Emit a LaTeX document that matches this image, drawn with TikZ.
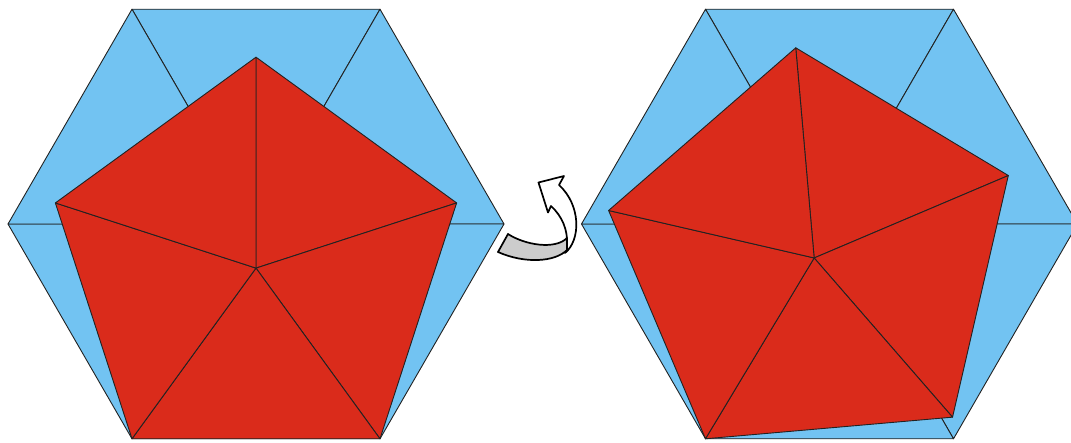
\documentclass[tikz,border=0pt]{standalone}
\usetikzlibrary{calc}
\definecolor{hexblue}{HTML}{72C3F2}
\definecolor{penred}{HTML}{DA2B1B}
\definecolor{arrgray}{HTML}{CCCCCC}
\definecolor{edge}{HTML}{222222}
\tikzset{
  hextri/.style={fill=hexblue, draw=edge, line width=0.9pt, line join=round},
  pentri/.style={fill=penred, draw=edge, line width=0.9pt, line join=round},
  arrpart/.style={draw=black, line width=1.7pt, line join=round}
}
\begin{document}
\begin{tikzpicture}[x=1pt,y=-1pt]
\useasboundingbox (0,0) rectangle (1071,442);
\clip (0,0) rectangle (1071,442);
% ---------- left figure ----------
\coordinate (LH) at (256,224);
\coordinate (LH1) at (132,9.22);
\coordinate (LH2) at (380,9.22);
\coordinate (LH3) at (504,224);
\coordinate (LH4) at (380,438.78);
\coordinate (LH5) at (132,438.78);
\coordinate (LH6) at (8,224);
\foreach \a/\b in {LH1/LH2,LH2/LH3,LH3/LH4,LH4/LH5,LH5/LH6,LH6/LH1}
  \filldraw[hextri] (LH) -- (\a) -- (\b) -- cycle;
\coordinate (LP) at (256,268.11);
\coordinate (LP1) at ($(LP)+(0,-210.96)$);
\coordinate (LP2) at ($(LP)+(200.63,-65.19)$);
\coordinate (LP3) at ($(LP)+(124,170.67)$);
\coordinate (LP4) at ($(LP)+(-124,170.67)$);
\coordinate (LP5) at ($(LP)+(-200.63,-65.19)$);
\foreach \a/\b in {LP1/LP2,LP2/LP3,LP3/LP4,LP4/LP5,LP5/LP1}
  \filldraw[pentri] (LP) -- (\a) -- (\b) -- cycle;
% ---------- right figure ----------
\coordinate (RH) at (829.5,224);
\coordinate (RH1) at (705.5,9.22);
\coordinate (RH2) at (953.5,9.22);
\coordinate (RH3) at (1077.5,224);
\coordinate (RH4) at (953.5,438.78);
\coordinate (RH5) at (705.5,438.78);
\coordinate (RH6) at (581.5,224);
\foreach \a/\b in {RH1/RH2,RH2/RH3,RH3/RH4,RH4/RH5,RH5/RH6,RH6/RH1}
  \filldraw[hextri] (RH) -- (\a) -- (\b) -- cycle;
\begin{scope}[rotate around={5:(705.5,438.78)}]
\coordinate (RP) at (829.5,268.11);
\coordinate (RP1) at ($(RP)+(0,-210.96)$);
\coordinate (RP2) at ($(RP)+(200.63,-65.19)$);
\coordinate (RP3) at ($(RP)+(124,170.67)$);
\coordinate (RP4) at ($(RP)+(-124,170.67)$);
\coordinate (RP5) at ($(RP)+(-200.63,-65.19)$);
\end{scope}
\foreach \a/\b in {RP1/RP2,RP2/RP3,RP3/RP4,RP4/RP5,RP5/RP1}
  \filldraw[pentri] (RP) -- (\a) -- (\b) -- cycle;
% ---------- rotation arrow ----------
\filldraw[arrpart, fill=white] (565,253) .. controls (581,240) and (581,205) .. (559,185)
  -- (564,176) -- (538.5,182.5) -- (548,212.5) -- (551,206)
  .. controls (562,216) and (568,230) .. (567,245) -- cycle;
\filldraw[arrpart, fill=arrgray] (508,234) .. controls (525,245) and (555,250) .. (567,238)
  -- (567,250) .. controls (555,262) and (525,264) .. (498,252) -- cycle;
\end{tikzpicture}
\end{document}
